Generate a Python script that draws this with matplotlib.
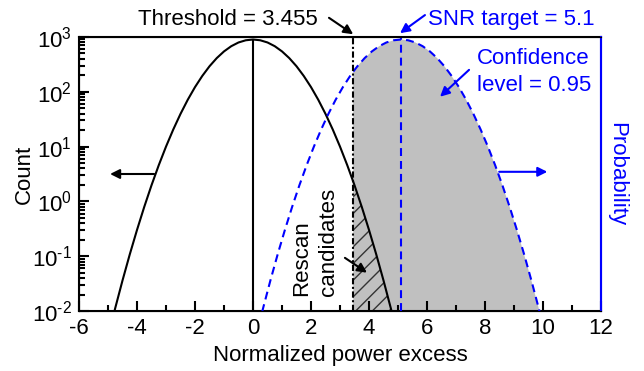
import numpy as np
import matplotlib
matplotlib.use("Agg")
import matplotlib.pyplot as plt
from matplotlib.ticker import LogLocator, MultipleLocator, FuncFormatter, NullFormatter

plt.rcParams['font.family'] = ['Liberation Sans', 'DejaVu Sans']
plt.rcParams['mathtext.fontset'] = 'custom'
plt.rcParams['mathtext.rm'] = 'Liberation Sans'
plt.rcParams['mathtext.default'] = 'regular'
plt.rcParams['axes.unicode_minus'] = False
plt.rcParams['hatch.linewidth'] = 1.0

# noise distribution (count, log10)
noise_x = np.array([-5.0, -4.75, -4.5, -4.25, -4.0, -3.75, -3.5, -3.25, -3.0, -2.75,
                    -2.5, -2.25, -2.0, -1.75, -1.5, -1.25, -1.0, -0.75, -0.5, -0.25,
                    0.0, 0.25, 0.5, 0.75, 1.0, 1.25, 1.5, 1.75, 2.0, 2.25,
                    2.5, 2.75, 3.0, 3.25, 3.455, 3.5, 3.75, 4.0, 4.25, 4.5, 4.75, 5.0])
noise_log = np.array([-2.474, -1.944, -1.442, -0.967, -0.520, -0.099, 0.295, 0.661, 1.000, 1.312,
                      1.597, 1.855, 2.086, 2.289, 2.466, 2.615, 2.737, 2.832, 2.900, 2.940,
                      2.954, 2.940, 2.900, 2.832, 2.737, 2.615, 2.466, 2.289, 2.086, 1.855,
                      1.597, 1.312, 1.000, 0.661, 0.362, 0.295, -0.099, -0.520, -0.967, -1.442, -1.944, -2.474])

# signal distribution (probability, same log scale)
signal_x = np.array([0.1, 0.35, 0.6, 0.85, 1.1, 1.35, 1.6, 1.85, 2.1, 2.35,
                     2.6, 2.85, 3.1, 3.35, 3.455, 3.6, 3.85, 4.1, 4.35, 4.6, 4.85,
                     5.1, 5.35, 5.6, 5.85, 6.1, 6.35, 6.6, 6.85, 7.1, 7.35,
                     7.6, 7.85, 8.1, 8.35, 8.6, 8.85, 9.1, 9.35, 9.6, 9.85, 10.1])
signal_log = np.array([-2.474, -1.944, -1.442, -0.967, -0.520, -0.099, 0.295, 0.661, 1.000, 1.312,
                       1.597, 1.855, 2.086, 2.289, 2.367, 2.466, 2.615, 2.737, 2.832, 2.900, 2.940,
                       2.954, 2.940, 2.900, 2.832, 2.737, 2.615, 2.466, 2.289, 2.086, 1.855,
                       1.597, 1.312, 1.000, 0.661, 0.295, -0.099, -0.520, -0.967, -1.442, -1.944, -2.474])

threshold = 3.455
snr_target = 5.1
x_ticks = [-6, -4, -2, 0, 2, 4, 6, 8, 10, 12]

noise_y = 10 ** noise_log
signal_y = 10 ** signal_log
ymin, ymax = 1e-2, 1e3
fs = 16


def pow10_label(v, pos):
    e = int(round(np.log10(v)))
    return '$10^{%s}$' % str(e).replace('-', '\u2010')


fig = plt.figure(figsize=(6.44, 3.71), dpi=100)
ax = fig.add_axes([0.1227, 0.1617, 0.8105, 0.7386])

# shaded areas
ax.fill_between(signal_x, ymin, signal_y, where=signal_x >= threshold,
                facecolor='#c0c0c0', edgecolor='none', zorder=1)
ax.fill_between(noise_x, ymin, noise_y, where=noise_x >= threshold,
                facecolor='none', edgecolor='#333333', hatch='//', linewidth=0, zorder=2)

# curves and markers
ax.plot(noise_x, noise_y, color='black', lw=1.5, zorder=4)
ax.plot(signal_x, signal_y, color='blue', lw=1.5, linestyle=(0, (3.8, 2.4)), zorder=4)
ax.vlines(0, ymin, noise_y[noise_x == 0][0], color='black', lw=1.5, zorder=4)
ax.vlines(threshold, ymin, ymax, color='black', lw=1.5, linestyles=[(0, (3, 1.2, 1, 1.2))], zorder=4)
ax.vlines(snr_target, ymin, ymax, color='blue', lw=1.5, linestyles=[(0, (3.8, 2.4))], zorder=4)

ax.set_xlim(-6, 12)
ax.set_ylim(ymin, ymax)
ax.set_yscale('log')
ax.set_xticks(x_ticks)
ax.set_xticklabels([str(t) for t in x_ticks])
ax.xaxis.set_minor_locator(MultipleLocator(1))
ax.yaxis.set_major_locator(LogLocator(base=10, numticks=10))
ax.yaxis.set_major_formatter(FuncFormatter(pow10_label))
ax.yaxis.set_minor_locator(LogLocator(base=10, subs=np.arange(2, 10), numticks=20))
ax.yaxis.set_minor_formatter(NullFormatter())
ax.tick_params(which='both', direction='in', top=False, right=False, width=1.5, labelsize=fs)
ax.tick_params(which='major', length=7, pad=5)
ax.tick_params(which='minor', length=4)
for s in ax.spines.values():
    s.set_linewidth(1.5)
ax.spines['right'].set_color('blue')

ax.set_xlabel('Normalized power excess', fontsize=fs, labelpad=4)
ax.set_ylabel('Count', fontsize=fs, labelpad=-2)

ax2 = ax.twinx()
ax2.set_yticks([])
ax2.spines['right'].set_color('blue')
ax2.spines['right'].set_linewidth(1.5)
ax2.set_ylabel('Probability', color='blue', fontsize=fs, rotation=-90, labelpad=19)

arrow_k = dict(arrowstyle='-|>', color='black', lw=1.5, mutation_scale=14, shrinkA=0, shrinkB=0)
arrow_b = dict(arrowstyle='-|>', color='blue', lw=1.5, mutation_scale=14, shrinkA=0, shrinkB=0)

# axis-side arrows
ax.annotate('', xy=(-4.93, 10 ** 0.5), xytext=(-3.41, 10 ** 0.5), arrowprops=arrow_k)
ax.annotate('', xy=(10.15, 10 ** 0.54), xytext=(8.49, 10 ** 0.54), arrowprops=arrow_b)

# labels
ax.text(2.24, 10 ** 3.31, 'Threshold = 3.455', fontsize=fs, ha='right', va='center', clip_on=False)
ax.annotate('', xy=(threshold, 10 ** 3.05), xytext=(2.62, 10 ** 3.35),
            arrowprops=arrow_k, annotation_clip=False)
ax.text(6.03, 10 ** 3.31, 'SNR target = 5.1', fontsize=fs, color='blue', ha='left', va='center', clip_on=False)
ax.annotate('', xy=(5.07, 10 ** 3.07), xytext=(5.93, 10 ** 3.40),
            arrowprops=arrow_b, annotation_clip=False)
ax.text(7.72, 10 ** 2.36, 'Confidence\nlevel = 0.95', fontsize=fs, color='blue',
        ha='left', va='center', linespacing=1.35)
ax.annotate('', xy=(6.45, 10 ** 1.91), xytext=(7.45, 10 ** 2.40), arrowprops=arrow_b)
ax.text(2.14, 10 ** -1.73, 'Rescan\ncandidates', fontsize=fs, rotation=90,
        ha='center', va='bottom', multialignment='left', linespacing=1.35)
ax.annotate('', xy=(3.93, 10 ** -1.30), xytext=(3.17, 10 ** -1.03), arrowprops=arrow_k)

fig.savefig('out.png', dpi=100)
